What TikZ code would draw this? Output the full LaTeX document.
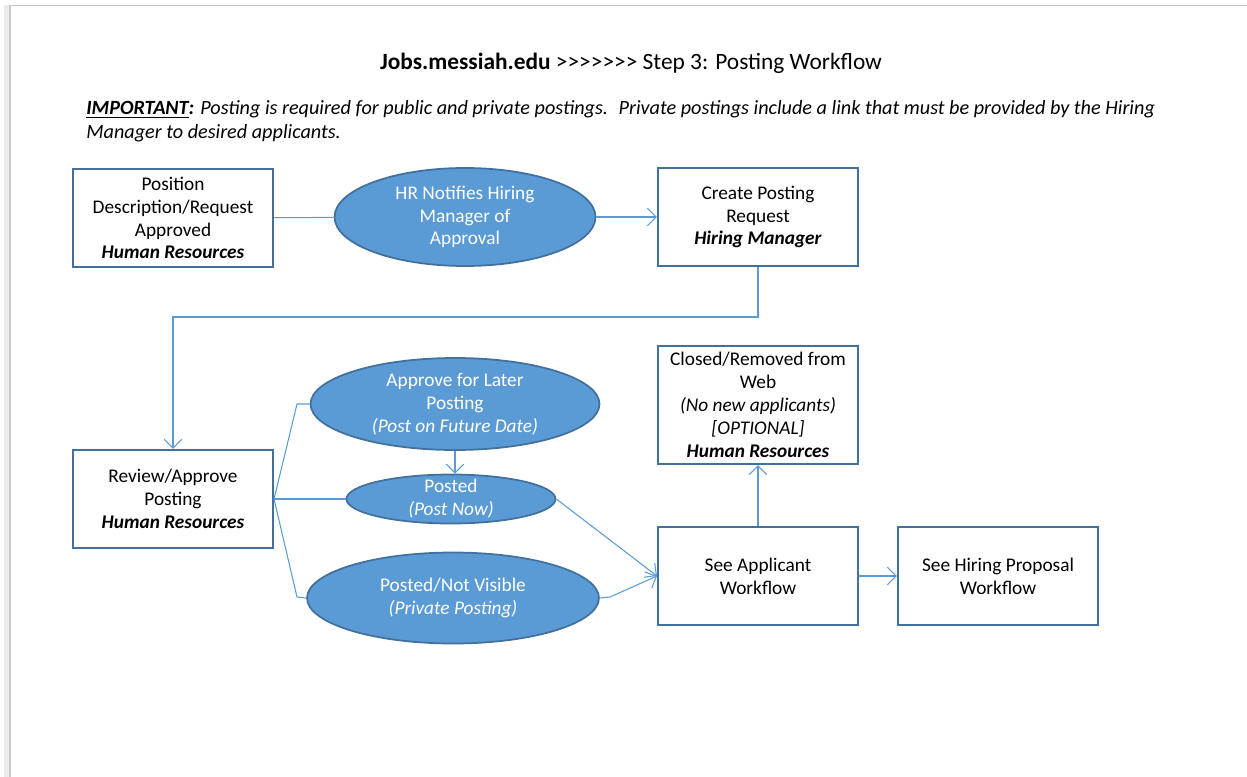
\documentclass[tikz,border=0pt]{standalone}
\usepackage{fontspec}
\setmainfont{Carlito}[Ligatures=TeXOff]
\usetikzlibrary{shapes.geometric,arrows.meta}

\definecolor{boxblue}{RGB}{65,113,156}
\definecolor{lineblue}{RGB}{91,155,213}
\definecolor{pagegray}{RGB}{200,200,200}

\newcommand{\who}[1]{\textbf{\textit{#1}}}

\tikzset{
	stepbox/.style={draw=boxblue, line width=1.2pt, fill=white, minimum width=4cm,
		minimum height=1.96cm, align=center, font=\fontsize{11}{13}\selectfont},
	oval/.style={ellipse, draw=boxblue, line width=1pt, fill=lineblue},
	ovaltext/.style={text=white, align=center, inner sep=0pt, font=\fontsize{11}{13}\selectfont},
	link/.style={draw=lineblue, line width=0.6pt},
	arrow/.style={link, -{Straight Barb[length=5pt,width=10pt]}}
}

\begin{document}
\begin{tikzpicture}[x=0.02cm, y=-0.02cm]
	% Page
	\useasboundingbox (0,0) rectangle (1247,777);
	\fill[gray!15] (4,5) rectangle (10,777);
	\draw[pagegray, line width=1pt] (10,777) -- (10,5.5) -- (1247,5.5);

	% Title and note
	\node[font=\fontsize{13.3}{15}\selectfont] (title) at (631,63)
		{\textbf{Jobs.messiah.edu} >>>>>>> Step 3: Posting Workflow};
	\node[anchor=base west, align=left, inner sep=0pt, font=\itshape\fontsize{11.5}{13.2}\selectfont] (note) at (86,138)
		{\underline{\textbf{IMPORTANT}}\textbf{:} Posting is required for public and private postings.~ Private postings include a link that must be provided by the Hiring\\
		Manager to desired applicants.};

	% First row
	\node[stepbox] (approved) at (173,218) {Position\\Description/Request\\Approved\\\who{Human Resources}};
	\node[oval, minimum width=5.22cm, minimum height=1.96cm] (notify) at (465,217) {};
	\node[ovaltext] (notifytext) at (notify) {HR Notifies Hiring\\Manager of\\Approval};
	\node[stepbox] (request) at (758,217) {Create Posting\\Request\\\who{Hiring Manager}};

	% Review and posting choices
	\node[stepbox] (review) at (173,499) {Review/Approve\\Posting\\\who{Human Resources}};
	\node[oval, minimum width=5.78cm, minimum height=1.84cm] (later) at (455,404) {};
	\node[ovaltext] (latertext) at (later) {Approve for Later\\Posting\\\textit{(Post on Future Date)}};
	\node[oval, minimum width=4.18cm, minimum height=0.98cm] (posted) at (451,499) {};
	\node[ovaltext] (postedtext) at (posted) {Posted\\\textit{(Post Now)}};
	\node[oval, minimum width=5.84cm, minimum height=1.82cm] (private) at (453,598) {};
	\node[ovaltext] (privatetext) at (private) {Posted/Not Visible\\\textit{(Private Posting)}};

	% Right side
	\node[stepbox] (applicant) at (758,576) {See Applicant\\Workflow};
	\node[stepbox, minimum height=2.36cm] (closed) at (758,405)
		{Closed/Removed from\\Web\\\textit{(No new applicants)}\\\textit{[OPTIONAL]}\\\who{Human Resources}};
	\node[stepbox] (proposal) at (998,576) {See Hiring Proposal\\Workflow};

	% Connectors
	\coordinate (turn) at (173,317);
	\coordinate (forkup) at (297,404);
	\coordinate (forkdown) at (297,597);
	\coordinate (kink) at (610,597);

	\draw[link] (approved) -- (notify);
	\draw[arrow] (notify) -- (request);
	\draw[arrow] (request.south) |- (turn) -- (review.north);
	\draw[link] (review.east) -- (forkup) -- (later.west);
	\draw[link] (review.east) -- (posted.west);
	\draw[link] (review.east) -- (forkdown) -- (private.west);
	\draw[arrow] (later.south) -- (later.south |- posted.north);
	\draw[arrow] (posted.east) -- (applicant.west);
	\draw[arrow] (private.east) -- (kink) -- (applicant.west);
	\draw[arrow] (applicant.north) -- (closed.south);
	\draw[arrow] (applicant) -- (proposal);

\end{tikzpicture}
\end{document}
